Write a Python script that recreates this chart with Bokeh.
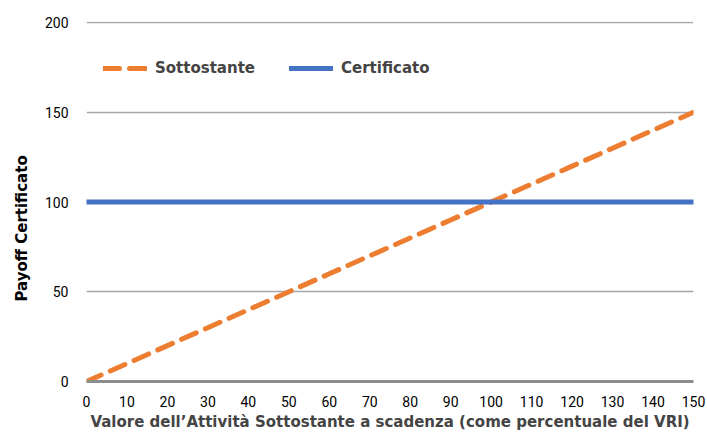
from bokeh.plotting import figure
from bokeh.models import Range1d, Legend, LegendItem, FixedTicker, Title
from bokeh.embed import file_html
from bokeh.resources import INLINE

x_vals = [0, 10, 20, 30, 40, 50, 60, 70, 80, 90, 100, 110, 120, 130, 140, 150]
sottostante = [0, 10, 20, 30, 40, 50, 60, 70, 80, 90, 100, 110, 120, 130, 140, 150]
certificato = [100, 100, 100, 100, 100, 100, 100, 100, 100, 100, 100, 100, 100, 100, 100, 100]
y_ticks = [0, 50, 100, 150, 200]
x_title = "Valore dell\u2019Attività Sottostante a scadenza (come percentuale del VRI)"
y_title = "Payoff Certificato"

TICK_FONT = "Roboto"
BOLD_FONT = "DejaVu Sans"

p = figure(width=707, height=434, output_backend="svg", toolbar_location=None,
           x_range=Range1d(0, 150), y_range=Range1d(0, 200.6),
           min_border_left=86, min_border_right=14, min_border_top=21, min_border_bottom=53)
p.outline_line_color = None
p.xgrid.visible = False
p.ygrid.grid_line_color = "#a6a6a6"
p.ygrid.grid_line_width = 1.5
p.yaxis.ticker = FixedTicker(ticks=y_ticks)
p.xaxis.ticker = FixedTicker(ticks=x_vals)

for ax in (p.xaxis, p.yaxis):
    ax.major_tick_line_color = None
    ax.minor_tick_line_color = None
    ax.major_label_text_font = TICK_FONT
    ax.major_label_text_font_size = "14px"
    ax.major_label_text_color = "#000000"
p.yaxis.axis_line_color = None
p.yaxis.major_label_standoff = 12
p.xaxis.axis_line_color = "#8c8c8c"
p.xaxis.axis_line_width = 3
p.xaxis.major_label_standoff = 8
p.xaxis.axis_label = x_title
p.xaxis.axis_label_text_font = BOLD_FONT
p.xaxis.axis_label_text_font_style = "bold"
p.xaxis.axis_label_text_font_size = "15px"
p.xaxis.axis_label_standoff = 3

r1 = p.line(x_vals, sottostante, line_color="#ED7D31", line_width=5,
            line_dash="16 10", line_cap="round")
r2 = p.line(x_vals, certificato, line_color="#4472C4", line_width=5, line_cap="round")

legend = Legend(items=[LegendItem(label="Sottostante", renderers=[r1]),
                       LegendItem(label="Certificato", renderers=[r2])],
                orientation="horizontal", location=(17, 303),
                border_line_color=None, background_fill_alpha=0,
                label_text_font=BOLD_FONT, label_text_font_style="bold",
                label_text_font_size="15px", glyph_width=44, label_standoff=8,
                spacing=34, padding=0, margin=0)
p.add_layout(legend, "center")

ytitle = Title(text=y_title, align="left", offset=80, standoff=18,
               vertical_align="top",
               text_font=BOLD_FONT, text_font_style="bold",
               text_font_size="15px", text_color="#000000")
p.add_layout(ytitle, "left")

open("out.html", "w").write(file_html(p, INLINE))
